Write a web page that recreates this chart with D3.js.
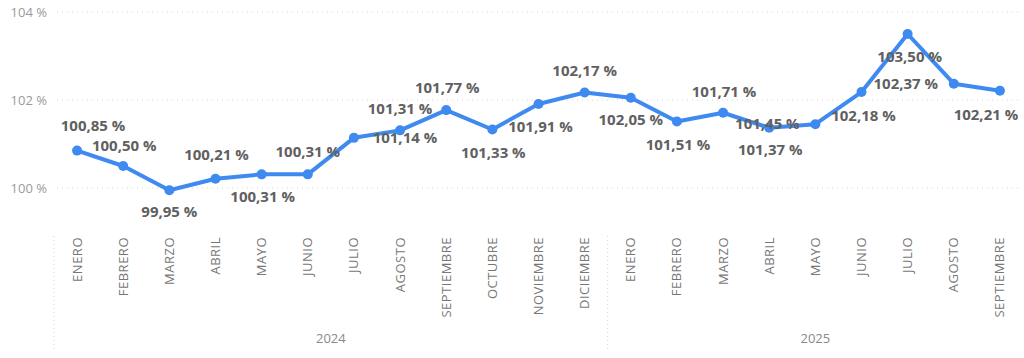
<!DOCTYPE html>
<html><head><meta charset="utf-8">
<script src="https://cdn.jsdelivr.net/npm/d3@7/dist/d3.min.js"></script>
<style>body{margin:0;background:#fff}svg{display:block}</style>
</head><body>
<svg id="c" width="1024" height="358"></svg>
<script>
const months = ["ENERO","FEBRERO","MARZO","ABRIL","MAYO","JUNIO","JULIO","AGOSTO","SEPTIEMBRE","OCTUBRE","NOVIEMBRE","DICIEMBRE",
                "ENERO","FEBRERO","MARZO","ABRIL","MAYO","JUNIO","JULIO","AGOSTO","SEPTIEMBRE"];
const years = ["2024","2024","2024","2024","2024","2024","2024","2024","2024","2024","2024","2024",
               "2025","2025","2025","2025","2025","2025","2025","2025","2025"];
const values = [100.85,100.50,99.95,100.21,100.31,100.31,101.14,101.31,101.77,101.33,101.91,102.17,
                102.05,101.51,101.71,101.37,101.45,102.18,103.50,102.37,102.21];
const yTicks = [100,102,104];
const yearLabels = ["2024","2025"];

// label placement (styling): [dx, dy]
const labelOffsets = [[16,-25],[1,-20],[0,22],[1,-24],[1,22],[0,-23],[51,0],[0,-22],[1,-22],[1,23],[2,23],[0,-22],
                      [0,22],[1,23],[1,-21],[1,22],[-48,0],[2,24],[2,23],[-48,0],[-14,24]];

const svg = d3.select("#c");
const left = 54, right = 1023;
const idx = d3.range(values.length);
const x = d3.scaleBand().domain(idx).range([left, right]);
const cx = i => x(i) + x.bandwidth()/2;
const y = d3.scaleLinear().domain([100,104]).range([188,12]);
const fmt = v => d3.format(".2f")(v).replace(".", ",") + " %";

// gridlines
svg.append("g").selectAll("line").data(yTicks).join("line")
  .attr("x1", 57).attr("x2", 1020)
  .attr("y1", d => y(d)).attr("y2", d => y(d))
  .attr("stroke", "#d4d4d4").attr("stroke-width", 1).attr("stroke-dasharray", "1,4");

// y axis labels
const yAxis = d3.axisLeft(y).tickValues(yTicks).tickSize(0).tickFormat(d => d + " %");
const ga = svg.append("g").attr("transform", "translate(47,0)").call(yAxis);
ga.select(".domain").remove();
ga.selectAll("text").attr("x", 0).attr("fill", "#9a9a9a")
  .style("font-family", "'Open Sans', sans-serif").style("font-size", "13px");

// x axis month labels
const xAxis = d3.axisBottom(x).tickSize(0).tickFormat(i => months[i]);
const gx = svg.append("g").attr("transform", "translate(0,237)").call(xAxis);
gx.select(".domain").remove();
gx.selectAll("text")
  .attr("transform", "rotate(-90)")
  .attr("x", 0).attr("y", 0).attr("dx", 0).attr("dy", "0.35em")
  .attr("text-anchor", "end")
  .attr("fill", "#777")
  .style("letter-spacing", "0.5px")
  .style("font-family", "'Open Sans', sans-serif").style("font-size", "13px");

// year separators
const yearStarts = idx.filter(i => i === 0 || years[i] !== years[i-1]);
const bounds = yearStarts.map(i => x(i)).concat([right]);
svg.append("g").selectAll("line").data(yearStarts).join("line")
  .attr("x1", i => x(i)).attr("x2", i => x(i))
  .attr("y1", 236).attr("y2", 352)
  .attr("stroke", "#cfcfcf").attr("stroke-dasharray", "1,3");
svg.append("g").selectAll("text").data(yearLabels).join("text")
  .attr("x", (d, k) => (bounds[k] + bounds[k+1]) / 2)
  .attr("y", 343).attr("text-anchor", "middle")
  .attr("fill", "#8a8a8a")
  .style("font-family", "'Open Sans', sans-serif").style("font-size", "13px")
  .text(d => d);

// line
const line = d3.line().x(i => cx(i)).y(i => y(values[i]));
svg.append("path").datum(idx).attr("d", line)
  .attr("fill", "none").attr("stroke", "#3E8AF0").attr("stroke-width", 4)
  .attr("stroke-linejoin", "round");
svg.append("g").selectAll("circle").data(idx).join("circle")
  .attr("cx", i => cx(i)).attr("cy", i => y(values[i])).attr("r", 5)
  .attr("fill", "#3E8AF0");

// data labels
svg.append("g").selectAll("text").data(idx).join("text")
  .attr("x", i => cx(i) + labelOffsets[i][0])
  .attr("y", i => y(values[i]) + labelOffsets[i][1])
  .attr("dy", "0.35em").attr("text-anchor", "middle")
  .attr("fill", "#606060").style("font-weight", "bold")
  .style("font-family", "'Open Sans', sans-serif").style("font-size", "15px")
  .text(i => fmt(values[i]));
</script>
</body></html>
